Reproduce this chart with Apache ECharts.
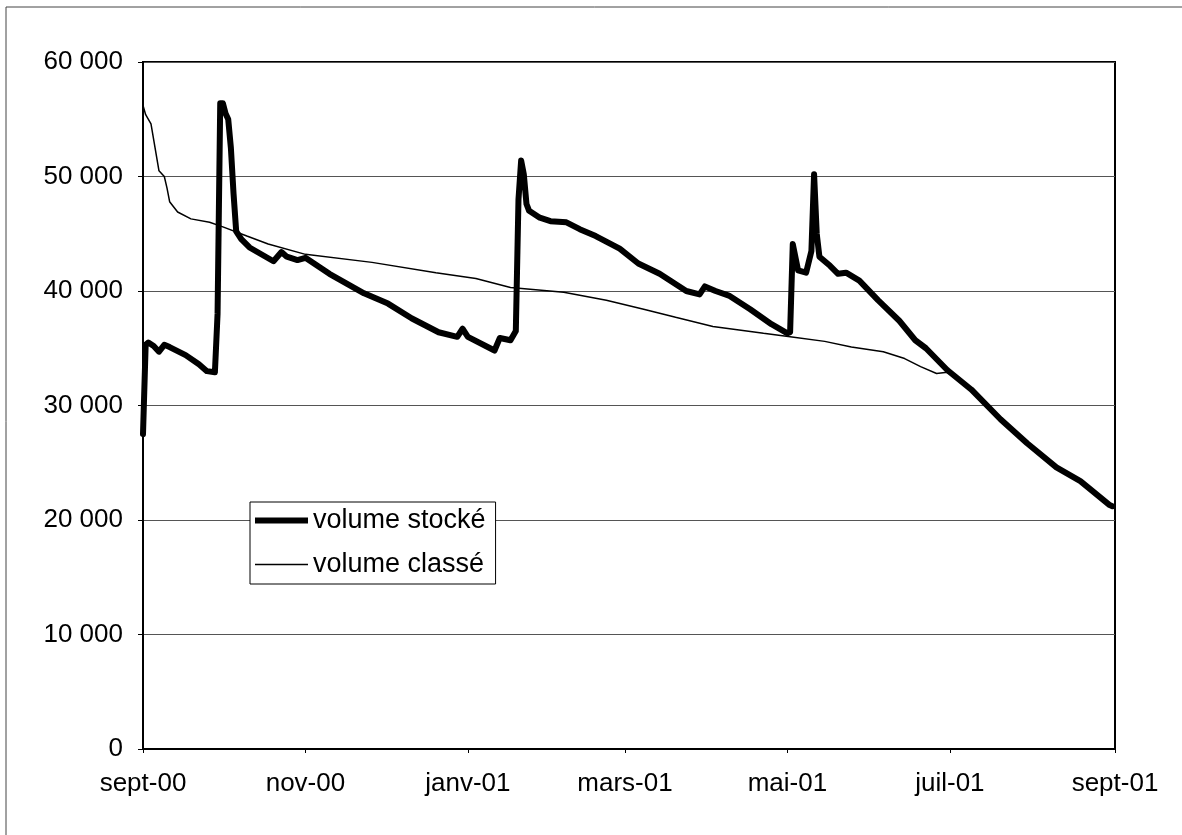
<!DOCTYPE html>
<html>
<head>
<meta charset="utf-8">
<title>Volume stocké et volume classé</title>
<script src="https://cdn.jsdelivr.net/npm/echarts@6/dist/echarts.min.js"></script>
<style>
  html, body { margin: 0; padding: 0; background: #fff; }
  #chart { width: 1182px; height: 835px; }
</style>
</head>
<body>
<div id="chart"></div>
<script>
// Volume stocké (daily readings, key dates)
const stockeDates = [
  '2000-09-01','2000-09-02','2000-09-03','2000-09-05','2000-09-07','2000-09-09','2000-09-11',
  '2000-09-17','2000-09-22','2000-09-25','2000-09-28','2000-09-29','2000-09-30','2000-10-01',
  '2000-10-02','2000-10-03','2000-10-04','2000-10-05','2000-10-06','2000-10-08','2000-10-11',
  '2000-10-20','2000-10-23','2000-10-25','2000-10-29','2000-11-01','2000-11-10','2000-11-23',
  '2000-12-02','2000-12-11','2000-12-21','2000-12-28','2000-12-30','2001-01-01','2001-01-11',
  '2001-01-13','2001-01-17','2001-01-19','2001-01-20','2001-01-21','2001-01-22','2001-01-23',
  '2001-01-24','2001-01-28','2001-02-01','2001-02-07','2001-02-12','2001-02-18','2001-02-27',
  '2001-03-06','2001-03-14','2001-03-24','2001-03-29','2001-03-31','2001-04-04','2001-04-09',
  '2001-04-17','2001-04-25','2001-05-01','2001-05-02','2001-05-03','2001-05-05','2001-05-08',
  '2001-05-10','2001-05-11','2001-05-12','2001-05-13','2001-05-17','2001-05-20','2001-05-23',
  '2001-05-28','2001-06-04','2001-06-12','2001-06-18','2001-06-22','2001-06-30','2001-07-09',
  '2001-07-20','2001-07-30','2001-08-10','2001-08-19','2001-08-30','2001-08-31'
];
const stockeValues = [
  27500, 35300, 35500, 35200, 34700, 35300, 35100,
  34400, 33600, 33000, 32900, 38000, 56400, 56400,
  55500, 55000, 52500, 48500, 45200, 44500, 43800,
  42600, 43400, 43000, 42700, 42900, 41500, 39800,
  38900, 37600, 36400, 36000, 36700, 36000, 34800,
  35900, 35700, 36500, 48000, 51400, 50200, 47600,
  47000, 46400, 46100, 46000, 45400, 44800, 43700,
  42400, 41500, 40000, 39700, 40400, 40000, 39600,
  38400, 37100, 36300, 36400, 44100, 41800, 41600,
  43500, 50200, 45000, 43000, 42200, 41500, 41600,
  40900, 39200, 37400, 35700, 35000, 33100, 31400,
  28800, 26700, 24600, 23400, 21300, 21200
];

// Volume classé (volumes sorted in decreasing order over the year)
const classeDates = [
  '2000-09-01','2000-09-02','2000-09-04','2000-09-07','2000-09-09','2000-09-10','2000-09-11',
  '2000-09-14','2000-09-19','2000-09-26','2000-10-01','2000-10-10','2000-10-18','2000-11-01',
  '2000-11-26','2000-12-20','2001-01-04','2001-01-17','2001-02-06','2001-02-22','2001-03-08',
  '2001-03-20','2001-04-03','2001-04-22','2001-05-02','2001-05-15','2001-05-25','2001-06-06',
  '2001-06-14','2001-06-20','2001-06-26','2001-06-30','2001-07-09','2001-07-20','2001-07-30',
  '2001-08-10','2001-08-19','2001-08-30','2001-08-31'
];
const classeValues = [
  56200, 55400, 54600, 50500, 50000, 49000, 47800,
  46900, 46300, 46000, 45600, 44800, 44100, 43200,
  42500, 41600, 41100, 40300, 39900, 39200, 38400,
  37700, 36900, 36300, 36000, 35600, 35100, 34700,
  34100, 33400, 32800, 32900, 31400, 28800, 26700,
  24600, 23400, 21300, 21200
];

// Axis labels
const xTickDates = ['2000-09-01','2000-11-01','2001-01-01','2001-03-01','2001-05-01','2001-07-01','2001-09-01'];
const xTickLabels = ['sept-00','nov-00','janv-01','mars-01','mai-01','juil-01','sept-01'];
const seriesNames = ['volume stocké', 'volume classé'];

// Dates are placed on a linear axis measured in milliseconds
const toTime = s => new Date(s + 'T00:00:00').getTime();
const pairs = (dates, values) => dates.map((d, i) => [toTime(d), values[i]]);
const tickTimes = xTickDates.map(toTime);
const tickLabelOf = {};
tickTimes.forEach((t, i) => { tickLabelOf[t] = xTickLabels[i]; });

const fmtThousands = v => String(v).replace(/\B(?=(\d{3})+(?!\d))/g, ' ');

const FONT = '"Liberation Sans", Arial, sans-serif';
const THICK = 6;
const THIN = 1.5;

const chart = echarts.init(document.getElementById('chart'), null, { renderer: 'canvas' });
chart.setOption({
  animation: false,
  backgroundColor: '#ffffff',
  textStyle: { fontFamily: FONT, color: '#000' },
  graphic: [{
    type: 'rect',
    silent: true,
    z: -10,
    shape: { x: 6, y: 7, width: 1400, height: 1000 },
    style: { fill: null, stroke: '#444', lineWidth: 1 }
  }],
  grid: {
    left: 143, right: 67, top: 62, bottom: 86,
    show: true, borderColor: '#000', borderWidth: 2, backgroundColor: 'transparent'
  },
  legend: {
    orient: 'vertical',
    left: 250, top: 502,
    data: [
      { name: seriesNames[0], icon: 'path://M0 0H53V' + THICK + 'H0Z' },
      { name: seriesNames[1], icon: 'path://M0 0H53V' + THIN + 'H0Z' }
    ],
    symbolKeepAspect: true,
    itemWidth: 53, itemHeight: 14, itemGap: 17,
    padding: [5, 10, 6, 5],
    borderColor: '#000', borderWidth: 1, backgroundColor: '#fff',
    textStyle: { fontFamily: FONT, fontSize: 27, color: '#000' }
  },
  xAxis: {
    type: 'value',
    min: toTime('2000-09-01'),
    max: toTime('2001-09-01'),
    axisLine: { show: true, lineStyle: { color: '#000', width: 2 } },
    axisTick: { show: true, customValues: tickTimes, length: 4, lineStyle: { color: '#000', width: 1 } },
    axisLabel: {
      customValues: tickTimes,
      formatter: v => tickLabelOf[v] || '',
      fontFamily: FONT, fontSize: 26, color: '#000', margin: 22
    },
    splitLine: { show: false }
  },
  yAxis: {
    type: 'value',
    min: 0, max: 60000, interval: 10000,
    axisLine: { show: true, lineStyle: { color: '#000', width: 2 } },
    axisTick: { show: true, length: 5, lineStyle: { color: '#000', width: 1 } },
    axisLabel: {
      formatter: fmtThousands,
      fontFamily: FONT, fontSize: 26, color: '#000', margin: 20
    },
    splitLine: { show: true, lineStyle: { color: '#555', width: 1 } }
  },
  series: [
    {
      name: seriesNames[0],
      type: 'line',
      data: pairs(stockeDates, stockeValues),
      symbol: 'none',
      z: 4,
      lineStyle: { color: '#000', width: THICK, join: 'round', cap: 'round' },
      itemStyle: { color: '#000' }
    },
    {
      name: seriesNames[1],
      type: 'line',
      data: pairs(classeDates, classeValues),
      symbol: 'none',
      z: 3,
      lineStyle: { color: '#000', width: THIN },
      itemStyle: { color: '#000' }
    }
  ]
});
</script>
</body>
</html>
